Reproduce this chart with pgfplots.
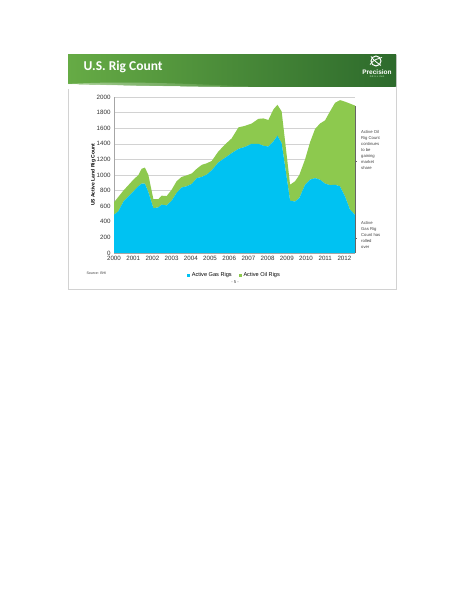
\documentclass[border=0pt]{standalone}
\usepackage{pgfplots}
\pgfplotsset{compat=1.18}
\usepackage{pgfplotstable}
\usepackage{fontspec}
\setmainfont{Liberation Sans}
\newfontfamily\titlefont{Carlito}
\definecolor{gasblue}{HTML}{00C2F2}
\definecolor{oilgreen}{HTML}{8DC94E}
\definecolor{hdrlight}{HTML}{66AB45}
\definecolor{hdrdark}{HTML}{2D6A2C}
\pgfplotstableread{
x gas oil
2000.00 490 160
2000.23 535 185
2000.49 660 140
2000.75 725 145
2001.01 790 150
2001.27 855 145
2001.44 890 190
2001.61 890 205
2001.79 780 220
2002.05 575 115
2002.31 585 105
2002.48 620 115
2002.74 610 120
2003.00 670 140
2003.26 770 150
2003.52 840 135
2003.78 855 140
2004.05 885 135
2004.31 960 120
2004.57 975 155
2004.83 1005 145
2005.09 1060 120
2005.43 1160 140
2005.78 1220 170
2006.13 1280 190
2006.48 1335 275
2006.82 1360 270
2007.17 1400 260
2007.52 1400 320
2007.78 1375 350
2008.04 1365 340
2008.30 1430 410
2008.51 1505 395
2008.73 1410 405
2009.17 670 205
2009.43 660 260
2009.65 705 295
2009.95 875 325
2010.21 940 480
2010.47 960 630
2010.73 940 720
2010.99 890 810
2011.25 870 945
2011.51 875 1050
2011.77 855 1105
2012.03 725 1215
2012.29 555 1360
2012.55 490 1400
}\rigs
\begin{document}
\begin{tikzpicture}[x=1pt,y=1pt]
% page
\fill[white] (0,0) rectangle (464,600);
% slide frame
\draw[gray!35, line width=0.8pt] (68,311) rectangle (396,545);
% header band
\shade[left color=hdrlight, right color=hdrdark] (68,513) rectangle (396,545);
\fill[white] (68,513) -- (68,516) .. controls (150,514) and (250,512) .. (396,513) -- (396,511) -- (68,511) -- cycle;
\shade[left color=hdrlight!40!white, right color=hdrlight!70!hdrdark, opacity=0.7] (68,516) .. controls (120,519) and (170,517) .. (250,513.5) .. controls (170,513.5) and (120,514.5) .. (68,516) -- cycle;
\node[anchor=west, text=white, font=\titlefont\bfseries\fontsize{13.5}{13.5}\selectfont] at (80,533) {U.S. Rig Count};
% logo
\draw[white, line width=1pt] (376,539) circle (5);
\draw[white, line width=0.8pt] (370,535.5) .. controls (374,541) and (378,541) .. (382,542.5);
\draw[white, line width=0.8pt] (371,543.5) .. controls (375,538) and (378,537) .. (381,534.5);
\node[text=white, font=\bfseries\fontsize{6.5}{6.5}\selectfont] at (377,527.5) {Precision};
\node[text=white!85!green, font=\fontsize{2.2}{2.2}\selectfont] at (377,523) {D R I L L I N G};
% chart
\begin{axis}[
  at={(114pt,347pt)}, anchor=south west,
  scale only axis, width=241pt, height=156pt,
  xmin=2000, xmax=2012.55, ymin=0, ymax=2000,
  xtick={2000,2001,...,2012}, ytick={0,200,...,2000},
  axis x line*=bottom, axis y line*=left,
  axis line style={gray!70},
  ymajorgrids, grid style={gray!35, line width=0.5pt},
  major tick length=1.5pt, tick style={gray!70},
  tick label style={font=\fontsize{6.2}{6.5}\selectfont, text=black!80},
  /pgf/number format/1000 sep={}, /pgf/number format/assume math mode=true,
  ylabel={US Active Land Rig Count},
  ylabel style={font=\bfseries\fontsize{5}{5}\selectfont, yshift=-6pt},
  stack plots=y,
  legend style={draw=none, fill=none, at={(0.5,-0.1)}, anchor=north,
    font=\fontsize{5.6}{6}\selectfont, legend columns=2,
    /tikz/every even column/.append style={column sep=5pt}},
  legend image code/.code={\fill[#1] (0pt,-1.4pt) rectangle (2.8pt,1.4pt);},
]
\addplot[fill=gasblue, draw=none] table[x=x, y=gas]{\rigs} \closedcycle;
\addlegendentry{Active Gas Rigs}
\addplot[fill=oilgreen, draw=none] table[x=x, y=oil]{\rigs} \closedcycle;
\addlegendentry{Active Oil Rigs}
\end{axis}
% right bracket
\draw[black!60, line width=0.6pt] (355,347) -- (355,494);
\draw[black!60, line width=0.5pt] (355,362) -- (357,362);
\draw[black!60, line width=0.5pt] (355,439) -- (357,439);
\node[anchor=north west, align=left, font=\fontsize{4.2}{6}\selectfont, text=black!75, inner sep=0pt] at (361,470) {Active Oil\\Rig Count\\continues\\to be\\gaining\\market\\share};
\node[anchor=north west, align=left, font=\fontsize{4.2}{6}\selectfont, text=black!75, inner sep=0pt] at (361,379) {Active\\Gas Rig\\Count has\\rolled\\over};
\node[anchor=west, font=\fontsize{3.6}{4}\selectfont, text=black!75] at (83,327) {Source: BHI};
\node[font=\fontsize{4.2}{4.2}\selectfont, text=black!75] at (235,318) {- 5 -};
\end{tikzpicture}
\end{document}
